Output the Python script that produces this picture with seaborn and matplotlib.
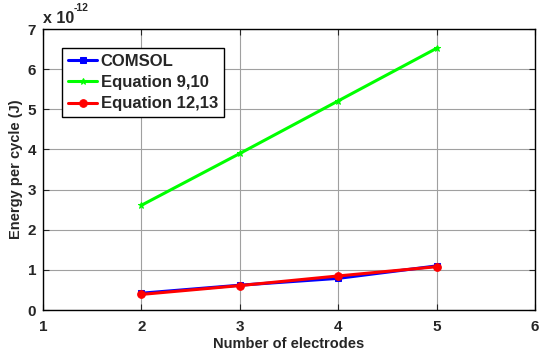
import matplotlib
matplotlib.use("Agg")
import matplotlib.pyplot as plt
import seaborn as sns
import pandas as pd

# Energy per cycle (units of 1e-12 J) versus number of electrodes
electrodes = [2, 3, 4, 5]
comsol = [0.42, 0.62, 0.79, 1.10]
eq_9_10 = [2.61, 3.90, 5.21, 6.52]
eq_12_13 = [0.39, 0.61, 0.85, 1.08]
series_names = ["COMSOL", "Equation 9,10", "Equation 12,13"]
x_ticks = [1, 2, 3, 4, 5, 6]
y_ticks = [0, 1, 2, 3, 4, 5, 6, 7]

sns.set_style("ticks")
plt.rcParams["font.family"] = ["Liberation Sans", "DejaVu Sans"]
plt.rcParams["font.weight"] = "bold"

df = pd.DataFrame({
    "n": electrodes * 3,
    "energy": comsol + eq_9_10 + eq_12_13,
    "series": [s for s in series_names for _ in electrodes],
})

fig = plt.figure(figsize=(5.39, 3.56), dpi=100)
ax = fig.add_axes([0.0798, 0.129, 0.9128, 0.7895])

styles = {
    "COMSOL": dict(color="#0000ff", marker="s", markersize=5),
    "Equation 9,10": dict(color="#00ff00", marker="*", markersize=5),
    "Equation 12,13": dict(color="#ff0000", marker="o", markersize=5.5),
}
for name in series_names:
    sub = df[df["series"] == name]
    st = styles[name]
    sns.lineplot(data=sub, x="n", y="energy", ax=ax, label=name,
                 color=st["color"], marker=st["marker"],
                 markersize=st["markersize"], markeredgecolor=st["color"],
                 linewidth=2.2, zorder=3)

ax.set_xlim(1, 6)
ax.set_ylim(0, 7)
ax.set_xticks(x_ticks)
ax.set_yticks(y_ticks)
ax.grid(True, color="#a0a0a0", linewidth=0.8)
ax.set_axisbelow(True)
ax.tick_params(direction="in", top=True, right=True, length=4, width=0.8,
               labelsize=11, pad=5)
ax.tick_params(axis="x", pad=7)
for lbl in ax.get_xticklabels() + ax.get_yticklabels():
    lbl.set_fontweight("bold")
for sp in ax.spines.values():
    sp.set_linewidth(1.0)
    sp.set_color("black")

ax.set_xlabel("Number of electrodes", fontsize=10.5, fontweight="bold", labelpad=2)
ax.set_ylabel("Energy per cycle (J)", fontsize=10.5, fontweight="bold", labelpad=3)

# Scale factor shown above the y axis
ax.text(0.0, 1.012, "x 10", transform=ax.transAxes,
        fontsize=11.5, fontweight="bold", ha="left", va="bottom")
ax.text(0.063, 1.058, "-12", transform=ax.transAxes,
        fontsize=7.5, fontweight="bold", ha="left", va="bottom")

leg = ax.legend(loc="upper left", bbox_to_anchor=(0.039, 0.933), fancybox=False,
                framealpha=1, edgecolor="black", fontsize=12,
                handlelength=1.75, handletextpad=0.2, borderpad=0.35,
                labelspacing=0.38, borderaxespad=0)
leg.get_frame().set_linewidth(1.0)
for t in leg.get_texts():
    t.set_fontweight("bold")

fig.savefig("out.png", dpi=100)
